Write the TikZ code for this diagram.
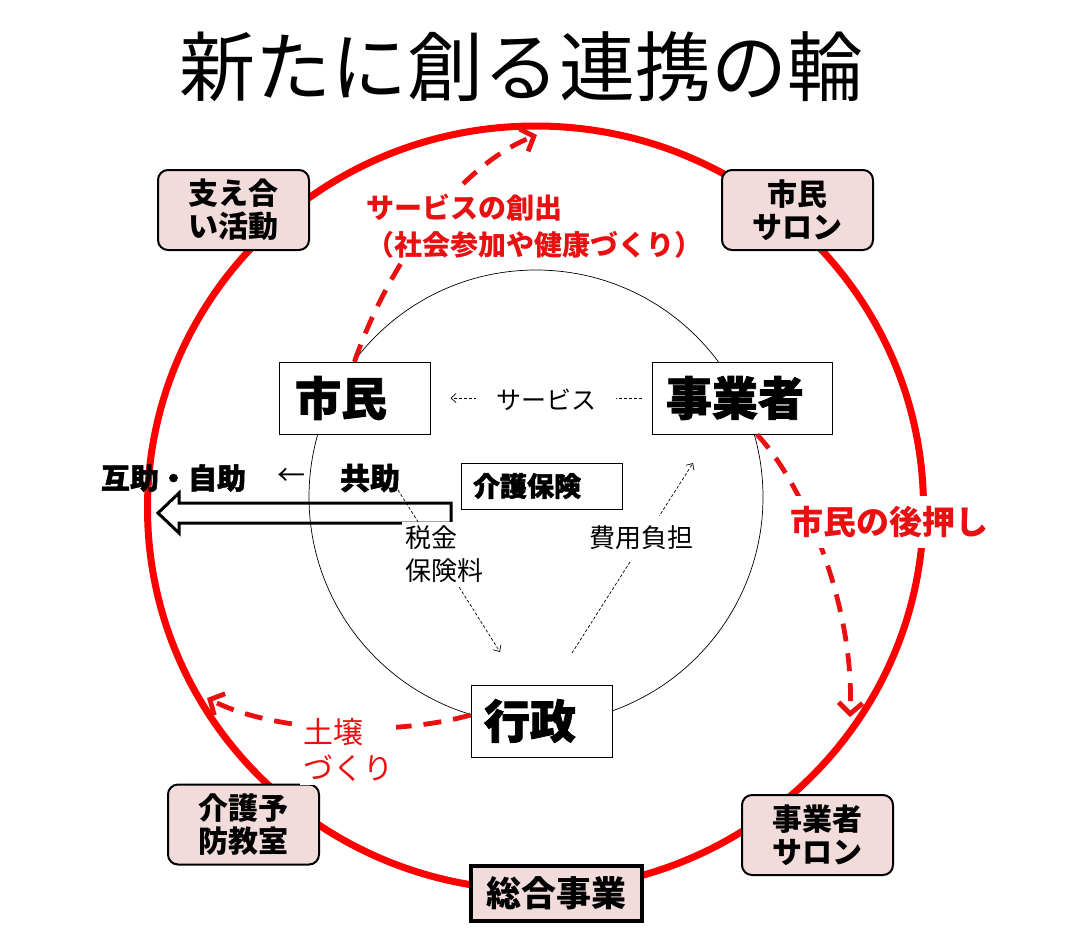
\documentclass[tikz,border=0pt]{standalone}
\usepackage{fontspec}
\setmainfont{Noto Sans CJK JP}
\newfontfamily\heavy{Noto Sans CJK JP}[BoldFeatures={FakeBold=1.6}]
\usetikzlibrary{arrows.meta}
\definecolor{ringred}{RGB}{255,0,0}
\definecolor{lblred}{RGB}{232,16,16}
\definecolor{pinkfill}{RGB}{242,220,219}
\tikzset{
  mainbox/.style={draw=black, line width=1pt, fill=white, minimum height=72pt, align=left,
    font=\heavy\bfseries\fontsize{46}{50}\selectfont},
  pinkbox/.style={draw=black, line width=2pt, fill=pinkfill, rounded corners=10pt,
    minimum width=151pt, minimum height=80pt, align=center, inner sep=0pt,
    font=\bfseries\fontsize{30}{33}\selectfont},
  reddash/.style={draw=lblred, line width=4.8pt, dash pattern=on 18pt off 12pt,
    -{Straight Barb[length=11pt,width=24pt]}},
  smalldash/.style={draw=black, line width=0.7pt, dash pattern=on 3pt off 2pt,
    -{Straight Barb[length=5pt,width=9pt]}},
  blacklbl/.style={fill=white, font=\fontsize{26}{33}\selectfont, text=black},
  redlbl/.style={fill=white, text=lblred},
}
\begin{document}
\begin{tikzpicture}[x=1pt,y=-1pt]
\useasboundingbox (0,0) rectangle (1086,930);

% title
\node[font=\fontsize{76}{80}\selectfont] (title) at (521.5,67) {新たに創る連携の輪};

% rings
\draw[ringred, line width=7pt] (535.5,508) ellipse [x radius=388pt, y radius=382pt];
\draw[line width=0.7pt] (536,497) circle [radius=227pt];

% main boxes
\node[mainbox, text width=119pt, inner xsep=16pt] (shimin) at (354.5,398) {市民};
\node[mainbox, text width=152pt, inner xsep=14pt] (jigyo) at (742,398) {事業者};
\node[mainbox, text width=115pt, inner xsep=13pt] (gyosei) at (541.5,721) {行政};
\node[draw=black, line width=1pt, fill=white, minimum height=46pt, text width=137pt, inner xsep=12pt, align=left,
  font=\heavy\bfseries\fontsize{27}{30}\selectfont] (kaigohoken) at (541.5,486) {介護保険};

% pink boxes
\node[pinkbox] (sasae) at (233.5,210) {支え合\\い活動};
\node[pinkbox] (salon1) at (797.5,210) {市民\\サロン};
\node[pinkbox] (kaigo) at (243.5,824.5) {介護予\\防教室};
\node[pinkbox] (salon2) at (817.5,835) {事業者\\サロン};
\node[draw=black, line width=3.5pt, fill=pinkfill, minimum width=171pt, minimum height=55pt, inner sep=0pt,
  font=\bfseries\fontsize{35}{38}\selectfont] (sogo) at (556.5,893.5) {総合事業};

% service arrow between jigyo and shimin
\draw[smalldash] ([xshift=-10pt]jigyo.west) -- ([xshift=20pt]shimin.east);
\node[fill=white, inner xsep=20pt, font=\fontsize{25}{28}\selectfont] (svc) at (546,400) {サービス};

% left side texts and block arrow
\node[font=\heavy\bfseries\fontsize{29}{32}\selectfont, inner sep=0pt] (gojo) at (173.5,478) {互助・自助};
\node[font=\fontsize{28}{30}\selectfont, inner sep=0pt] (larrow) at (291,477) {←};
\node[font=\heavy\bfseries\fontsize{30}{32}\selectfont, inner sep=0pt] (kyojo) at (370,478) {共助};
\draw[line width=3pt, line join=miter] (451,503) -- (179,503) -- (179,493) -- (158,513) -- (179,533) -- (179,523) -- (451,523) -- cycle;

% tax arrow
\coordinate (k1) at (398,490);
\coordinate (k2) at (500,652);
\draw[smalldash] (k1) -- (k2);
\node[blacklbl, anchor=west, align=left, inner sep=3pt] (zeikin) at (402,554) {税金\\保険料};

% cost arrow
\coordinate (h1) at (572,653);
\coordinate (h2) at (693,463);
\draw[smalldash] (h1) -- (h2);
\node[blacklbl, inner xsep=3pt, inner ysep=10pt] (hiyo) at (641,538) {費用負担};

% red dashed arrows
\coordinate (cr1) at (537,135);
\coordinate (cr2) at (850,717);
\coordinate (cr3) at (207,698);
\draw[reddash] (shimin.north) .. controls (390,260) and (460,165) .. (cr1);
\draw[reddash] ([xshift=15pt]jigyo.south) .. controls (800,480) and (855,600) .. (cr2);
\draw[reddash] ([yshift=6pt]gyosei.west) .. controls (400,735) and (280,735) .. (cr3);

% red labels
\node[redlbl, anchor=west, align=left, inner sep=4pt, font=\bfseries\fontsize{28}{37}\selectfont] (lbl1) at (362,226.5)
  {サービスの創出\\（社会参加や健康づくり）};
\node[redlbl, inner xsep=2pt, inner ysep=10pt, font=\bfseries\fontsize{33}{36}\selectfont] (lbl2) at (889,522) {市民の後押し};
\node[redlbl, anchor=west, align=left, inner sep=3pt, font=\fontsize{30}{36}\selectfont] (lbl3) at (300,750) {土壌\\づくり};
\end{tikzpicture}
\end{document}
